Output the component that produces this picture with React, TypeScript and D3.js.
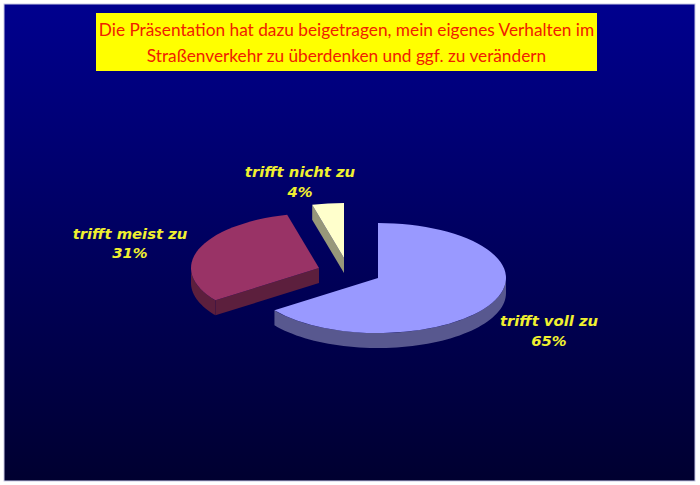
import React, { useEffect, useRef } from 'react';
import * as d3 from 'd3';

const categories = ['trifft voll zu', 'trifft meist zu', 'trifft nicht zu'];
const values = [65, 31, 4];
const titleLines = [
  'Die Präsentation hat dazu beigetragen, mein eigenes Verhalten im',
  'Straßenverkehr zu überdenken und ggf. zu verändern'
];

const topColors = ['#9999ff', '#993366', '#ffffcc'];
const sideColors = ['#58588f', '#5c1f3d', '#97977a'];
// where each exploded slice sits
const centers = [[378, 278], [319, 268], [344, 258]];
const labelPos = [[549, 326], [130, 238.5], [300, 177]];

const width = 700;
const height = 485;
const rx = 128;
const ry = 55;
const depth = 15;

const App = () => {
  const ref = useRef<SVGSVGElement>(null);

  useEffect(() => {
    const svg = d3.select(ref.current);
    svg.selectAll('*').remove();

    const grad = svg
      .append('defs')
      .append('linearGradient')
      .attr('id', 'bg')
      .attr('x1', 0)
      .attr('y1', 0)
      .attr('x2', 0)
      .attr('y2', 1);
    grad.append('stop').attr('offset', '0%').attr('stop-color', '#00008e');
    grad.append('stop').attr('offset', '100%').attr('stop-color', '#000030');

    svg
      .append('rect')
      .attr('x', 4)
      .attr('y', 4)
      .attr('width', 691)
      .attr('height', 477)
      .attr('fill', 'url(#bg)')
      .attr('stroke', '#c9c9e6')
      .attr('stroke-width', 1);

    // title box
    svg
      .append('rect')
      .attr('x', 96)
      .attr('y', 13)
      .attr('width', 501)
      .attr('height', 58)
      .attr('fill', '#ffff00');

    svg
      .selectAll('.title')
      .data(titleLines)
      .enter()
      .append('text')
      .attr('class', 'title')
      .attr('x', 346.5)
      .attr('y', (d, i) => 36 + i * 26)
      .attr('text-anchor', 'middle')
      .attr('font-family', 'Lato')
      .attr('font-size', 17.25)
      .attr('fill', '#f02000')
      .text((d) => d);

    const pie = d3.pie<number>().sort(null);
    const arcs = pie(values);
    const arc = d3.arc<d3.PieArcDatum<number>>().innerRadius(0).outerRadius(rx);
    const line = d3.line();
    const tau = Math.PI * 2;

    const point = (a: number, c: number[], dy = 0): [number, number] => [
      c[0] + rx * Math.sin(a),
      c[1] - ry * Math.cos(a) + dy
    ];

    // walls first, then the top faces over them
    arcs.forEach((d, i) => {
      const c = centers[i];
      const g = svg.append('g').attr('fill', sideColors[i]);

      const from = Math.max(d.startAngle, Math.PI / 2);
      const to = Math.min(d.endAngle, (Math.PI * 3) / 2);
      if (from < to) {
        const steps = d3.range(0, 61).map((k) => from + ((to - from) * k) / 60);
        const pts = [
          ...steps.map((a) => point(a, c)),
          ...steps.reverse().map((a) => point(a, c, depth))
        ];
        g.append('path').attr('d', line(pts) + 'Z');
      }

      const cutWall = (a: number) => {
        const p = point(a, c);
        const pts: [number, number][] = [
          [c[0], c[1]],
          p,
          [p[0], p[1] + depth],
          [c[0], c[1] + depth]
        ];
        g.append('path').attr('d', line(pts) + 'Z');
      };
      if (d.startAngle > Math.PI && d.startAngle < tau) cutWall(d.startAngle);
      if (d.endAngle > 0 && d.endAngle < Math.PI) cutWall(d.endAngle);

      svg
        .append('path')
        .attr('d', arc(d))
        .attr('transform', `translate(${c[0]},${c[1]}) scale(1,${ry / rx})`)
        .attr('fill', topColors[i]);
    });

    const labels = svg
      .selectAll('.label')
      .data(categories)
      .enter()
      .append('text')
      .attr('class', 'label')
      .attr('text-anchor', 'middle')
      .attr('font-family', 'DejaVu Sans')
      .attr('font-weight', 'bold')
      .attr('font-style', 'italic')
      .attr('font-size', 14.8)
      .attr('fill', '#f0f030');

    labels
      .append('tspan')
      .attr('x', (d, i) => labelPos[i][0])
      .attr('y', (d, i) => labelPos[i][1])
      .text((d) => d);

    labels
      .append('tspan')
      .attr('x', (d, i) => labelPos[i][0])
      .attr('y', (d, i) => labelPos[i][1] + 19.5)
      .text((d, i) => values[i] + '%');
  }, []);

  return (
    <svg
      ref={ref}
      width={width}
      height={height}
      style={{ position: 'absolute', left: 0, top: 0 }}
    />
  );
};

export default App;
